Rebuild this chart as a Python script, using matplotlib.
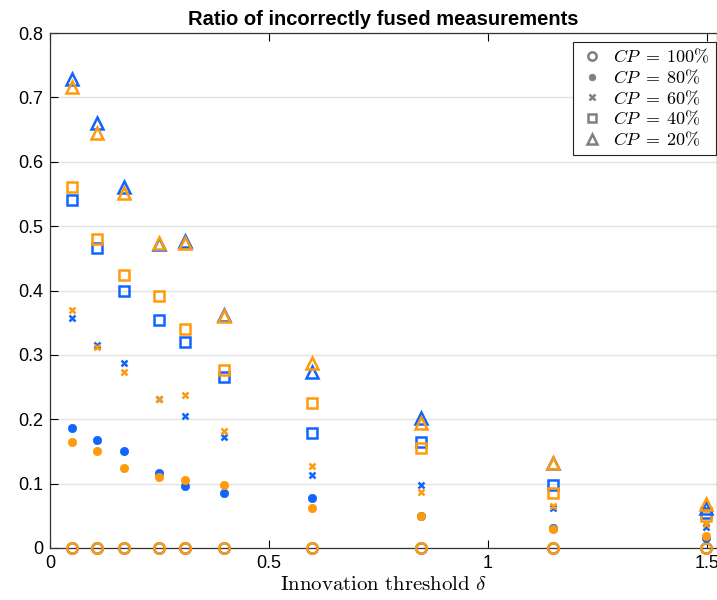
import matplotlib
matplotlib.use("Agg")
import matplotlib.pyplot as plt
from matplotlib.lines import Line2D

plt.rcParams["mathtext.fontset"] = "cm"
plt.rcParams["font.family"] = ["Liberation Sans", "DejaVu Sans"]

# innovation threshold values
delta = [0.05, 0.108, 0.168, 0.249, 0.309, 0.397, 0.599, 0.847, 1.148, 1.497]

# ratio of incorrectly fused measurements, two methods (blue / orange) per CP level
cp100_blue = [0, 0, 0, 0, 0, 0, 0, 0, 0, 0]
cp100_orange = [0, 0, 0, 0, 0, 0, 0, 0, 0, 0]
cp80_blue = [0.186, 0.168, 0.151, 0.116, 0.097, 0.085, 0.078, 0.049, 0.031, 0.015]
cp80_orange = [0.164, 0.151, 0.124, 0.111, 0.106, 0.098, 0.062, 0.049, 0.030, 0.019]
cp60_blue = [0.357, 0.315, 0.287, 0.232, 0.205, 0.172, 0.113, 0.098, 0.062, 0.033]
cp60_orange = [0.370, 0.312, 0.273, 0.231, 0.238, 0.182, 0.127, 0.087, 0.066, 0.038]
cp40_blue = [0.540, 0.466, 0.399, 0.354, 0.320, 0.266, 0.179, 0.164, 0.098, 0.055]
cp40_orange = [0.561, 0.480, 0.424, 0.391, 0.340, 0.276, 0.225, 0.156, 0.085, 0.049]
cp20_blue = [0.728, 0.660, 0.560, 0.473, 0.477, 0.362, 0.273, 0.202, 0.132, 0.062]
cp20_orange = [0.716, 0.645, 0.551, 0.474, 0.474, 0.361, 0.288, 0.194, 0.132, 0.068]

cp_labels = [r"$CP\;=\;100\%$", r"$CP\;=\;80\%$", r"$CP\;=\;60\%$",
             r"$CP\;=\;40\%$", r"$CP\;=\;20\%$"]

BLUE = "#1065ff"
ORANGE = "#ff9a0a"

fig = plt.figure(figsize=(7.17, 6.0), dpi=100)
ax = fig.add_axes([50 / 717, 52 / 600, 667 / 717, 515 / 600])

series = [
    (cp100_blue, cp100_orange, dict(marker="o", ms=7.5, mew=1.8, mfc="none")),
    (cp80_blue, cp80_orange, dict(marker="o", ms=6, mew=0.5)),
    (cp60_blue, cp60_orange, dict(marker="x", ms=5, mew=1.8)),
    (cp40_blue, cp40_orange, dict(marker="s", ms=6.5, mew=1.8, mfc="none")),
    (cp20_blue, cp20_orange, dict(marker="^", ms=9, mew=1.8, mfc="none")),
]
for blue, orange, style in series:
    for vals, col in ((blue, BLUE), (orange, ORANGE)):
        kw = dict(style)
        if kw.get("mfc") != "none":
            kw["mfc"] = col
        ax.plot(delta, vals, linestyle="none", color=col, mec=col,
                clip_on=False, zorder=3, **kw)

ax.set_xlim(0, 1.523)
ax.set_ylim(0, 0.8)
ax.set_xticks([0, 0.5, 1, 1.5])
ax.set_xticklabels(["0", "0.5", "1", "1.5"])
ax.set_yticks([0, 0.1, 0.2, 0.3, 0.4, 0.5, 0.6, 0.7, 0.8])
ax.set_yticklabels(["0", "0.1", "0.2", "0.3", "0.4", "0.5", "0.6", "0.7", "0.8"])
ax.tick_params(direction="in", labelsize=13, length=6, width=0.8,
               top=True, right=False, pad=5)
ax.yaxis.grid(True, color="#e3e3e3", lw=1.0)
ax.set_axisbelow(True)
for s in ax.spines.values():
    s.set_color("#333333")
    s.set_linewidth(0.9)

ax.set_xlabel(r"$\mathrm{Innovation\ threshold}\ \delta$", fontsize=15, labelpad=2)
ax.set_title("Ratio of incorrectly fused measurements", fontsize=14.5,
             fontweight="bold", pad=6)

gray = "#808080"
handles = []
for (_, _, style), lab in zip(series, cp_labels):
    kw = dict(style)
    kw["ms"] = kw["ms"] * 0.8
    if kw.get("mfc") != "none":
        kw["mfc"] = gray
    handles.append(Line2D([], [], linestyle="none", color=gray, mec=gray, label=lab, **kw))
leg = ax.legend(handles=handles, loc="upper right", bbox_to_anchor=(0.999, 0.983),
                fontsize=13, frameon=True, fancybox=False, edgecolor="#222222",
                framealpha=1, handletextpad=0.5, borderpad=0.35, labelspacing=0.12,
                handlelength=1.4, borderaxespad=0)
leg.get_frame().set_linewidth(0.8)

fig.savefig("out.png", dpi=100)
